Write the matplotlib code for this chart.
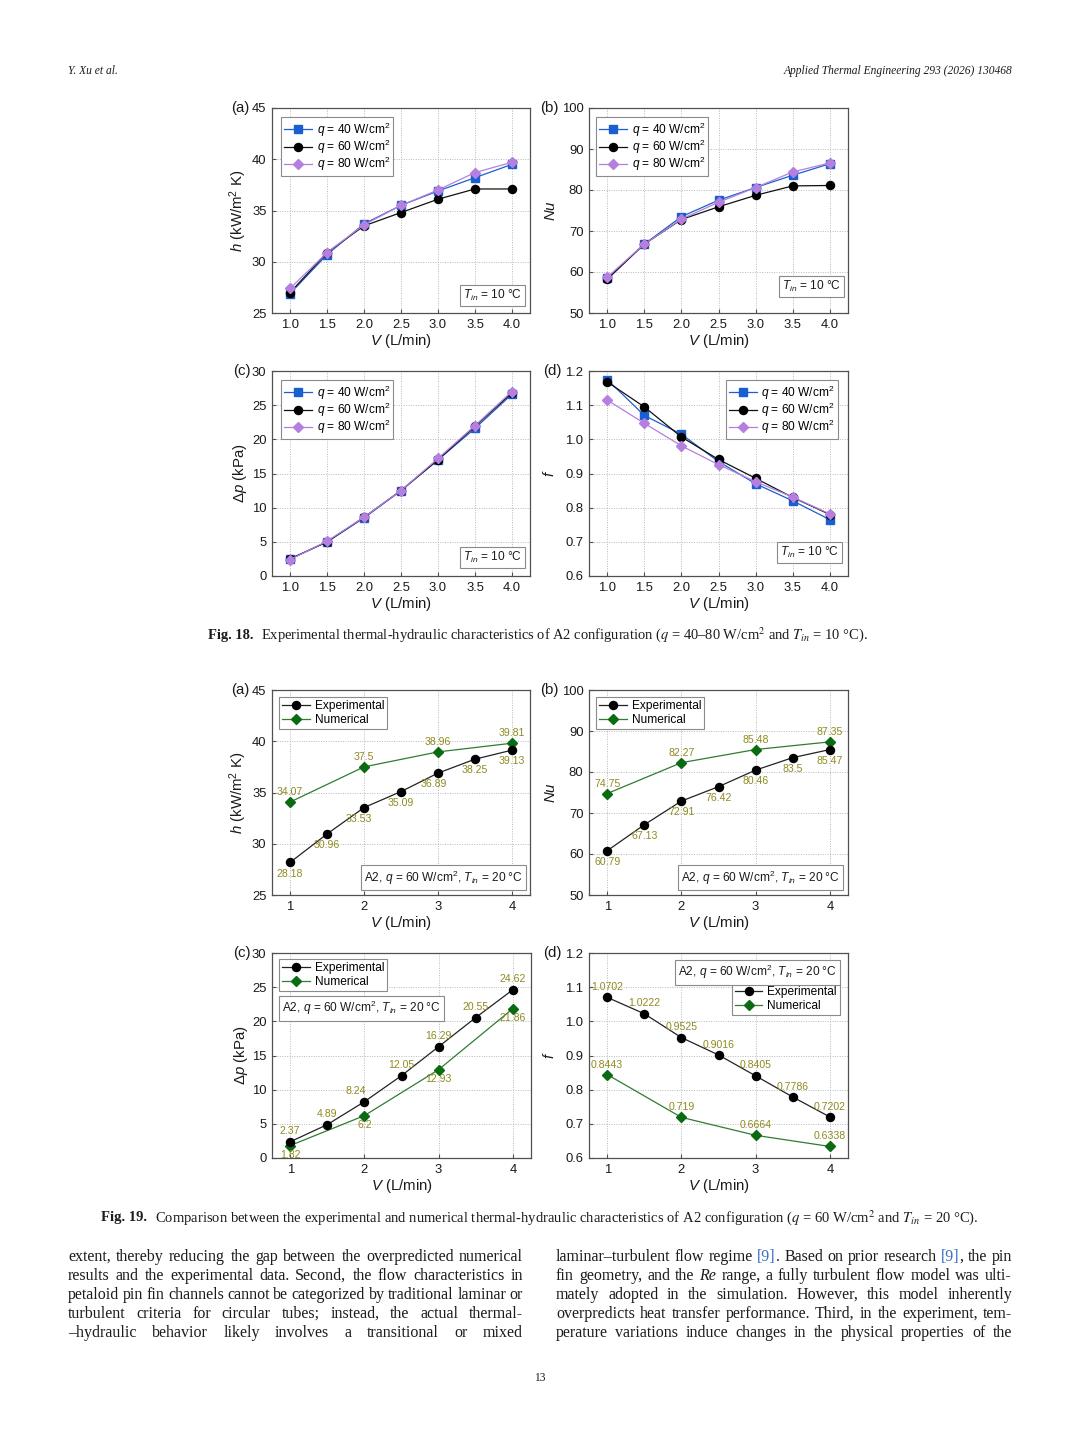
import matplotlib
matplotlib.use('Agg')
import matplotlib.pyplot as plt
from matplotlib.ticker import FormatStrFormatter, FixedLocator

plt.rcParams['font.family'] = ['Liberation Sans', 'DejaVu Sans']
plt.rcParams['mathtext.fontset'] = 'custom'
plt.rcParams['mathtext.rm'] = 'Liberation Sans'
plt.rcParams['mathtext.it'] = 'Liberation Sans:italic'
plt.rcParams['mathtext.bf'] = 'Liberation Sans:bold'

# ---------------- data: Fig. 18 ----------------
V18 = [1.0, 1.5, 2.0, 2.5, 3.0, 3.5, 4.0]
q_labels = [r"$q$ = 40 W/cm$^2$", r"$q$ = 60 W/cm$^2$", r"$q$ = 80 W/cm$^2$"]
h_q40 = [26.9, 30.7, 33.7, 35.5, 36.9, 38.2, 39.5]
h_q60 = [27.0, 30.9, 33.5, 34.8, 36.1, 37.1, 37.1]
h_q80 = [27.4, 30.9, 33.6, 35.5, 37.0, 38.7, 39.7]
Nu_q40 = [58.5, 66.8, 73.5, 77.5, 80.6, 83.6, 86.4]
Nu_q60 = [58.2, 66.8, 72.8, 75.9, 78.7, 81.0, 81.1]
Nu_q80 = [58.7, 66.8, 72.9, 77.0, 80.6, 84.4, 86.6]
dp_q40 = [2.5, 5.0, 8.5, 12.5, 17.0, 21.6, 26.6]
dp_q60 = [2.5, 5.0, 8.6, 12.5, 17.0, 21.9, 26.8]
dp_q80 = [2.4, 5.1, 8.6, 12.5, 17.2, 22.0, 27.0]
f_q40 = [1.175, 1.070, 1.015, 0.935, 0.870, 0.820, 0.765]
f_q60 = [1.168, 1.095, 1.007, 0.941, 0.886, 0.830, 0.780]
f_q80 = [1.115, 1.047, 0.981, 0.926, 0.876, 0.831, 0.782]

# ---------------- data: Fig. 19 ----------------
V_exp = [1, 1.5, 2, 2.5, 3, 3.5, 4]
V_num = [1, 2, 3, 4]
h_exp = [28.18, 30.96, 33.53, 35.09, 36.89, 38.25, 39.13]
h_num = [34.07, 37.5, 38.96, 39.81]
Nu_exp = [60.79, 67.13, 72.91, 76.42, 80.46, 83.5, 85.47]
Nu_num = [74.75, 82.27, 85.48, 87.35]
dp_exp = [2.37, 4.89, 8.24, 12.05, 16.29, 20.55, 24.62]
dp_num = [1.82, 6.2, 12.93, 21.86]
f_exp = [1.0702, 1.0222, 0.9525, 0.9016, 0.8405, 0.7786, 0.7202]
f_num = [0.8443, 0.719, 0.6664, 0.6338]

W, H = 1080, 1440
fig = plt.figure(figsize=(W / 100, H / 100), dpi=100)
fig.patch.set_facecolor('white')

BLUE = '#1a5fd0'
PURPLE = '#b57fdf'
GREEN = '#0b6b12'
OLIVE = '#8f8a1f'
BOXEC = '#8a8a8a'


def fx(x):
    return x / W


def fy(y):
    return 1 - y / H


def add_ax(box):
    l, t, r, b = box
    return fig.add_axes([l / W, 1 - b / H, (r - l) / W, (b - t) / H])


def style_ax(ax, box, ylim, yticks, yfmt, xticks, xfmt, ylabel, ylab_right,
             panel, panel_off):
    l, t, r, b = box
    wpx, hpx = r - l, b - t
    ax.set_xlim(0.755, 4.245)
    ax.set_ylim(*ylim)
    ax.xaxis.set_major_locator(FixedLocator(xticks))
    ax.yaxis.set_major_locator(FixedLocator(yticks))
    ax.xaxis.set_major_formatter(FormatStrFormatter(xfmt))
    ax.yaxis.set_major_formatter(FormatStrFormatter(yfmt))
    ax.grid(True, ls=(0, (1, 1.5)), color='#b8b8b8', lw=0.7)
    ax.set_axisbelow(True)
    for s in ax.spines.values():
        s.set_color('#505050')
        s.set_linewidth(0.9)
    ax.tick_params(direction='in', length=3, width=0.8, labelsize=9.4,
                   pad=4, colors='#505050', labelcolor='#1a1a1a')
    ax.set_xlabel(r"$V$ (L/min)", fontsize=10.8, color='#1a1a1a')
    ax.xaxis.set_label_coords(0.5, -19 / hpx)
    ax.set_ylabel(ylabel, fontsize=10.8, color='#1a1a1a')
    ax.yaxis.set_label_coords(-(l - ylab_right) / wpx, 0.5)
    ax.text(-panel_off / wpx, 1.0, panel, transform=ax.transAxes, ha='right',
            va='center', fontsize=10.8, color='#1a1a1a')


def box_text(x, y, s, ha, va):
    fig.text(fx(x), fy(y), s, ha=ha, va=va, fontsize=8.6, color='#1a1a1a',
             bbox=dict(boxstyle='square,pad=0.28', fc='white', ec=BOXEC, lw=0.8))


def legend(ax, handles, labels, x, y, loc, spacing):
    lg = ax.legend(handles, labels, loc=loc, bbox_to_anchor=(fx(x), fy(y)),
                   bbox_transform=fig.transFigure, borderaxespad=0, fontsize=8.6,
                   frameon=True, fancybox=False, framealpha=1, edgecolor=BOXEC,
                   handlelength=2.3, handletextpad=0.4, labelspacing=spacing,
                   borderpad=0.28)
    lg.get_frame().set_linewidth(0.8)
    return lg


panels = ['(a)', '(b)', '(c)', '(d)']
panel_offs = [22, 30, 21, 27]
ylabels = [r"$h$ (kW/m$^2$ K)", r"$Nu$", r"$Δp$ (kPa)", r"$f$"]

# ---------------- Fig. 18 ----------------
f18_boxes = [(272, 108, 530, 313), (589, 108, 848, 313),
             (272, 371, 530, 576), (589, 371, 848, 576)]
f18_data = [(h_q40, h_q60, h_q80), (Nu_q40, Nu_q60, Nu_q80),
            (dp_q40, dp_q60, dp_q80), (f_q40, f_q60, f_q80)]
f18_ylims = [(25, 45), (50, 100), (0, 30), (0.6, 1.2)]
f18_yticks = [[25, 30, 35, 40, 45], [50, 60, 70, 80, 90, 100],
              [0, 5, 10, 15, 20, 25, 30], [0.6, 0.7, 0.8, 0.9, 1.0, 1.1, 1.2]]
f18_yfmt = ['%d', '%d', '%d', '%.1f']
f18_ylab = [249, 558, 249, 557]
f18_leg = [((281, 117), 'upper left'), ((596, 117), 'upper left'),
           ((281, 380), 'upper left'), ((838, 380), 'upper right')]
f18_tin = [(522, 303), (841, 294), (522, 565), (839, 560)]

for i in range(4):
    ax = add_ax(f18_boxes[i])
    a, b_, c = f18_data[i]
    l1, = ax.plot(V18, a, color=BLUE, lw=0.9, marker='s', ms=5.2, mfc=BLUE,
                  mec=BLUE, zorder=3)
    l2, = ax.plot(V18, b_, color='#111111', lw=0.9, marker='o', ms=5.8, mfc='black',
                  mec='black', zorder=4)
    l3, = ax.plot(V18, c, color=PURPLE, lw=0.9, marker='D', ms=5.0, mfc=PURPLE,
                  mec=PURPLE, zorder=5)
    style_ax(ax, f18_boxes[i], f18_ylims[i], f18_yticks[i], f18_yfmt[i],
             V18, '%.1f', ylabels[i], f18_ylab[i], panels[i], panel_offs[i])
    (lx, ly), loc = f18_leg[i]
    legend(ax, [l1, l2, l3], q_labels, lx, ly, loc, -0.08)
    tx, ty = f18_tin[i]
    box_text(tx, ty, r"$T_{in}$ = 10 °C", 'right', 'bottom')

# ---------------- Fig. 19 ----------------
f19_boxes = [(272, 690, 530, 895), (589, 690, 848, 895),
             (272, 953, 531, 1158), (589, 953, 848, 1158)]
f19_data = [(h_exp, h_num), (Nu_exp, Nu_num), (dp_exp, dp_num), (f_exp, f_num)]
f19_ylab = [249, 558, 250, 557]
f19_leg = [((279, 697), 'upper left'), ((596, 697), 'upper left'),
           ((279, 959), 'upper left'), ((840, 983), 'upper right')]
a2_txt = r"A2, $q$ = 60 W/cm$^2$, $T_{in}$ = 20 °C"
f19_a2 = [(523, 887, 'right', 'bottom'), (840, 887, 'right', 'bottom'),
          (282, 999, 'left', 'top'), (837, 963, 'right', 'top')]
# label offset direction (points) for experimental / numerical annotations
f19_dy = [(-8, 7.2), (-8, 7.2), (7.5, -7), (7.5, 7.2)]
exp_dx = [[0, 0, -4, 0, -3, 0, 0], [0, 0, 0, 0, 0, 0, 0],
          [0, 0, -6, 0, 0, 0, 0], [0, 0, 0, 0, 0, 0, 0]]

for i in range(4):
    ax = add_ax(f19_boxes[i])
    ye, yn = f19_data[i]
    le, = ax.plot(V_exp, ye, color='#222222', lw=0.9, marker='o', ms=5.8,
                  mfc='black', mec='black', zorder=4)
    ln, = ax.plot(V_num, yn, color='#2e7d32', lw=0.9, marker='D', ms=5.0,
                  mfc=GREEN, mec=GREEN, zorder=3)
    style_ax(ax, f19_boxes[i], f18_ylims[i], f18_yticks[i], f18_yfmt[i],
             [1, 2, 3, 4], '%d', ylabels[i], f19_ylab[i], panels[i], panel_offs[i])
    (lx, ly), loc = f19_leg[i]
    legend(ax, [le, ln], ['Experimental', 'Numerical'], lx, ly, loc, 0.15)
    x, y, ha, va = f19_a2[i]
    box_text(x, y, a2_txt, ha, va)
    dye, dyn = f19_dy[i]
    for j, (xv, yv) in enumerate(zip(V_exp, ye)):
        ax.annotate(f"{yv:g}", (xv, yv), xytext=(exp_dx[i][j], dye),
                    textcoords='offset points', ha='center', va='center',
                    fontsize=7.6, color=OLIVE, zorder=6)
    for xv, yv in zip(V_num, yn):
        ax.annotate(f"{yv:g}", (xv, yv), xytext=(0, dyn),
                    textcoords='offset points', ha='center', va='center',
                    fontsize=7.6, color=OLIVE, zorder=6)

# ---------------- page text ----------------
r = fig.canvas.get_renderer()
SERIF = ['Liberation Serif', 'DejaVu Serif']
TXT = '#1c1c1c'

fig.text(fx(68), fy(71), "Y. Xu et al.", fontsize=8.3, style='italic',
         family=SERIF, ha='left', va='center', color=TXT)
fig.text(fx(1012), fy(71), "Applied Thermal Engineering 293 (2026) 130468",
         fontsize=8.3, style='italic', family=SERIF, ha='right', va='center', color=TXT)
fig.text(fx(540), fy(1378), "13", fontsize=8.3, family=SERIF, ha='center',
         va='center', color=TXT)


def caption(x0, x1, y, head, body):
    size = 9.5
    t1 = fig.text(fx(x0), fy(y), head, fontsize=size, weight='bold', family=SERIF,
                  ha='left', va='center', color=TXT)
    w1 = t1.get_window_extent(r).width
    t2 = fig.text(fx(x0 + w1 + 7), fy(y), body, fontsize=size, family=SERIF,
                  math_fontfamily='stix', ha='left', va='center', color=TXT)
    w2 = t2.get_window_extent(r).width
    scale = (x1 - x0 - 7) / (w1 + w2)
    ns = size * scale
    t1.set_fontsize(ns)
    t2.set_fontsize(ns)
    w1 = t1.get_window_extent(r).width
    t2.set_x(fx(x0 + w1 + 7 * scale))


caption(208, 872, 635, "Fig. 18.",
        r"Experimental thermal-hydraulic characteristics of A2 configuration "
        r"($q$ = 40–80 W/cm$^{2}$ and $T_{in}$ = 10 °C).")
caption(101, 979, 1218, "Fig. 19.",
        r"Comparison between the experimental and numerical thermal-hydraulic "
        r"characteristics of A2 configuration ($q$ = 60 W/cm$^{2}$ and $T_{in}$ = 20 °C).")

left_lines = [
    "extent, thereby reducing the gap between the overpredicted numerical",
    "results and the experimental data. Second, the flow characteristics in",
    "petaloid pin fin channels cannot be categorized by traditional laminar or",
    "turbulent criteria for circular tubes; instead, the actual thermal-",
    "–hydraulic behavior likely involves a transitional or mixed",
]
right_lines = [
    "laminar–turbulent flow regime [9]. Based on prior research [9], the pin",
    "fin geometry, and the Re range, a fully turbulent flow model was ulti-",
    "mately adopted in the simulation. However, this model inherently",
    "overpredicts heat transfer performance. Third, in the experiment, tem-",
    "perature variations induce changes in the physical properties of the",
]


def tokens_of(line):
    toks = []
    for w in line.split(' '):
        if '[9]' in w:
            pre, post = w.split('[9]')
            seg = []
            if pre:
                seg.append((pre, {}))
            seg.append(('[9]', {'color': '#3a6fc4'}))
            if post:
                seg.append((post, {}))
            toks.append(seg)
        elif w == 'Re':
            toks.append([(w, {'style': 'italic'})])
        else:
            toks.append([(w, {})])
    return toks


def measure(line, size):
    toks = tokens_of(line)
    widths = []
    for tok in toks:
        w = 0
        for s, kw in tok:
            t = fig.text(0, 0, s, fontsize=size, family=SERIF, **kw)
            w += t.get_window_extent(r).width
            t.remove()
        widths.append(w)
    t = fig.text(0, 0, 'a a', fontsize=size, family=SERIF)
    t2 = fig.text(0, 0, 'aa', fontsize=size, family=SERIF)
    sp = t.get_window_extent(r).width - t2.get_window_extent(r).width
    t.remove()
    t2.remove()
    return toks, widths, sp


def justify(x0, x1, y, line, size):
    toks, widths, _ = measure(line, size)
    gap = (x1 - x0 - sum(widths)) / max(len(toks) - 1, 1)
    x = x0
    for tok, w in zip(toks, widths):
        xx = x
        for s, kw in tok:
            kw2 = dict(color=TXT)
            kw2.update(kw)
            t = fig.text(fx(xx), fy(y), s, fontsize=size, family=SERIF,
                         ha='left', va='center', **kw2)
            xx += t.get_window_extent(r).width
        x += w + gap


# body font size: the densest line fills the column with slightly tight spaces
natural = []
for ln in left_lines + right_lines:
    toks, widths, sp = measure(ln, 10.0)
    natural.append(sum(widths) + 0.85 * sp * (len(toks) - 1))
body_size = 10.0 * 455 / max(natural)

for k, ln in enumerate(left_lines):
    justify(68, 523, 1257 + 19 * k, ln, body_size)
for k, ln in enumerate(right_lines):
    justify(556, 1012, 1257 + 19 * k, ln, body_size)

fig.savefig('out.png', dpi=100, facecolor='white')
